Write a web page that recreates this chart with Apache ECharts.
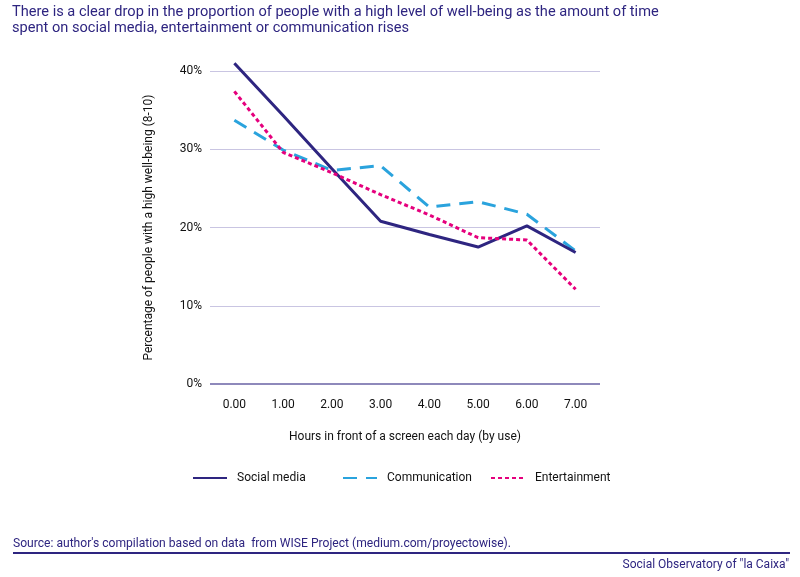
<!DOCTYPE html>
<html><head><meta charset="utf-8">
<script src="https://cdn.jsdelivr.net/npm/echarts@6/dist/echarts.min.js"></script>
<style>html,body{margin:0;padding:0;background:#fff}#c{width:800px;height:577px}</style>
</head><body><div id="c"></div>
<script>
const categories = ['0.00','1.00','2.00','3.00','4.00','5.00','6.00','7.00'];
const socialMedia = [41.0, 34.3, 27.5, 20.8, 19.1, 17.5, 20.2, 16.8];
const communication = [33.7, 29.9, 27.3, 27.9, 22.6, 23.3, 21.7, 17.0];
const entertainment = [37.4, 29.6, 27.0, 24.2, 21.6, 18.7, 18.4, 12.1];
const yTicks = [0, 10, 20, 30, 40];

const chart = echarts.init(document.getElementById('c'));
const navy = '#2e2580';
const font = 'Roboto';
const legText = {fontFamily: font, fontSize: 12, color: '#111', padding: [0, 0, 0, 5]};
chart.setOption({
  animation: false,
  title: [
    {text: 'There is a clear drop in the proportion of people with a high level of well-being as the amount of time\nspent on social media, entertainment or communication rises',
     left: 12, top: 4, padding: 0, textStyle: {color: navy, fontSize: 14.6, fontWeight: 'normal', fontFamily: font, lineHeight: 16}},
    {text: 'Source: author\'s compilation based on data  from WISE Project (medium.com/proyectowise).',
     left: 13, top: 538, padding: 0, textStyle: {color: navy, fontSize: 12.1, fontWeight: 'normal', fontFamily: font}},
    {text: 'Social Observatory of "la Caixa"',
     right: 11, top: 559, padding: 0, textStyle: {color: navy, fontSize: 12, fontWeight: 'normal', fontFamily: font}}
  ],
  graphic: [{type: 'line', shape: {x1: 13, y1: 553, x2: 790, y2: 553}, style: {stroke: navy, lineWidth: 2}}],
  grid: {left: 210, right: 200, top: 71, bottom: 193},
  legend: [
    {data: [{name: 'Social media'}], left: 192, top: 472, padding: 0, itemWidth: 34, itemHeight: 12, itemStyle: {opacity: 0}, textStyle: legText},
    {data: [{name: 'Communication'}], left: 342, top: 472, padding: 0, itemWidth: 34, itemHeight: 12, itemStyle: {opacity: 0}, textStyle: legText},
    {data: [{name: 'Entertainment'}], left: 490, top: 472, padding: 0, itemWidth: 34, itemHeight: 12, itemStyle: {opacity: 0}, textStyle: legText}
  ],
  xAxis: {
    type: 'category', data: categories, boundaryGap: true,
    name: 'Hours in front of a screen each day (by use)', nameLocation: 'middle', nameGap: 47,
    nameTextStyle: {fontFamily: font, fontSize: 12, color: '#111'},
    axisLine: {show: false}, axisTick: {show: false},
    axisLabel: {fontFamily: font, fontSize: 12, color: '#111', margin: 15}
  },
  yAxis: {
    type: 'value', min: 0, max: 40, interval: 10,
    name: 'Percentage of people with a high well-being (8-10)', nameLocation: 'middle', nameGap: 55, nameRotate: 90,
    nameTextStyle: {fontFamily: font, fontSize: 12, color: '#111'},
    axisLine: {show: false}, axisTick: {show: false},
    axisLabel: {fontFamily: font, fontSize: 12, color: '#111', margin: 8,
      formatter: v => yTicks.includes(v) ? v + '%' : ''},
    splitLine: {lineStyle: {color: '#c9c5e2', width: 1}}
  },
  series: [
    {name: 'Social media', type: 'line', data: socialMedia, symbol: 'none', clip: false,
     lineStyle: {color: navy, width: 3}, itemStyle: {color: navy}, z: 3},
    {name: 'Communication', type: 'line', data: communication, symbol: 'none', clip: false,
     lineStyle: {color: '#2aa3dd', width: 3, type: [14, 9]}, itemStyle: {color: '#2aa3dd'}, z: 2},
    {name: 'Entertainment', type: 'line', data: entertainment, symbol: 'none', clip: false,
     lineStyle: {color: '#e5007d', width: 3, type: [4, 3]}, itemStyle: {color: '#e5007d'}, z: 4,
     markLine: {silent: true, symbol: 'none', label: {show: false},
       lineStyle: {color: '#8e89bb', width: 2, type: 'solid'}, data: [{yAxis: 0}]}}
  ]
});
</script></body></html>
